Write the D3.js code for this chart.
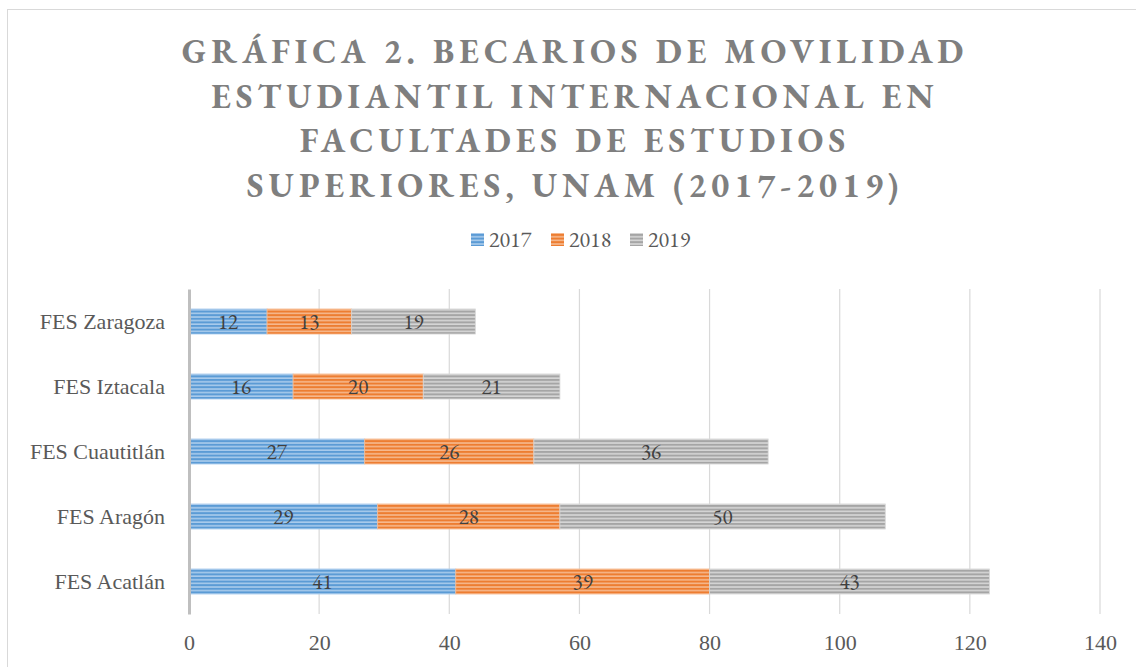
<!DOCTYPE html>
<html>
<head>
<meta charset="utf-8">
<script src="https://cdn.jsdelivr.net/npm/d3@7"></script>
<style>
  body { margin: 0; background: #fff; }
  svg text { font-family: Garamond, "EB Garamond", "Liberation Serif", "DejaVu Serif", serif; }
</style>
</head>
<body>
<div id="chart"></div>
<script>
// Data
const categories = ["FES Zaragoza", "FES Iztacala", "FES Cuautitlán", "FES Aragón", "FES Acatlán"];
const years = ["2017", "2018", "2019"];
const values2017 = [12, 16, 27, 29, 41];
const values2018 = [13, 20, 26, 28, 39];
const values2019 = [19, 21, 36, 50, 43];
const xTicks = [0, 20, 40, 60, 80, 100, 120, 140];
const titleLines = [
    "GRÁFICA 2. BECARIOS DE MOVILIDAD",
    "ESTUDIANTIL INTERNACIONAL EN",
    "FACULTADES DE ESTUDIOS",
    "SUPERIORES, UNAM (2017-2019)"
];

const W = 1136, H = 667;
const margin = { top: 289, right: 36, bottom: 53, left: 189 };
const width = W - margin.left - margin.right;
const height = H - margin.top - margin.bottom;

const svg = d3.select("#chart").append("svg")
    .attr("width", W)
    .attr("height", H);

// Stripe patterns
const colors = { "2017": ["#5b9bd5", "#a9cbec"], "2018": ["#ed7d31", "#f6b98e"], "2019": ["#a5a5a5", "#d6d6d6"] };
const defs = svg.append("defs");
years.forEach(y => {
    const p = defs.append("pattern")
        .attr("id", "stripe" + y)
        .attr("patternUnits", "userSpaceOnUse")
        .attr("width", 8).attr("height", 3.6);
    p.append("rect").attr("width", 8).attr("height", 3.6).attr("fill", colors[y][1]);
    p.append("rect").attr("width", 8).attr("height", 2).attr("fill", colors[y][0]);
});

// Chart border
svg.append("rect")
    .attr("x", 7.5).attr("y", 9.5)
    .attr("width", W).attr("height", H)
    .attr("fill", "none")
    .attr("stroke", "#d9d9d9");

// Title
svg.append("text")
    .attr("text-anchor", "middle")
    .attr("fill", "#7f7f7f")
    .style("font-size", "34px")
    .style("font-weight", "bold")
    .style("letter-spacing", "5px")
    .selectAll("tspan")
    .data(titleLines)
    .enter().append("tspan")
    .attr("x", 575)
    .attr("y", (d, i) => 63 + i * 44.7)
    .text(d => d);

// Legend
const legendX = [471, 551, 630];
const legend = svg.append("g");
years.forEach((y, i) => {
    legend.append("rect")
        .attr("x", legendX[i]).attr("y", 233)
        .attr("width", 13).attr("height", 13)
        .attr("fill", `url(#stripe${y})`);
    legend.append("text")
        .attr("x", legendX[i] + 18).attr("y", 247)
        .attr("fill", "#595959")
        .style("font-size", "22px")
        .text(y);
});

const g = svg.append("g").attr("transform", `translate(${margin.left},${margin.top})`);

const x = d3.scaleLinear().domain([0, 140]).range([0, width]);
const y = d3.scaleBand().domain(categories).range([0, height])
    .paddingInner(0.615).paddingOuter(0.3075);

// Gridlines
g.append("g")
    .selectAll("line")
    .data(xTicks.slice(1))
    .enter().append("line")
    .attr("x1", d => x(d)).attr("x2", d => x(d))
    .attr("y1", 0).attr("y2", height)
    .attr("stroke", "#d9d9d9")
    .attr("stroke-width", 1.2);

// Stacked bars
const rows = categories.map((c, i) => ({ cat: c, "2017": values2017[i], "2018": values2018[i], "2019": values2019[i] }));
const series = d3.stack().keys(years)(rows);

series.forEach(s => {
    const grp = g.append("g");
    grp.selectAll("rect")
        .data(s)
        .enter().append("rect")
        .attr("x", d => x(d[0]))
        .attr("y", d => y(d.data.cat))
        .attr("width", d => x(d[1]) - x(d[0]))
        .attr("height", y.bandwidth())
        .attr("fill", `url(#stripe${s.key})`)
        .attr("stroke", colors[s.key][1])
        .attr("stroke-width", 0.8);
    grp.selectAll("text")
        .data(s)
        .enter().append("text")
        .attr("x", d => (x(d[0]) + x(d[1])) / 2)
        .attr("y", d => y(d.data.cat) + y.bandwidth() / 2 + 7)
        .attr("text-anchor", "middle")
        .attr("fill", "#404040")
        .style("font-size", "21px")
        .text(d => d[1] - d[0]);
});

// Y axis
const yAxis = g.append("g").call(d3.axisLeft(y).tickSize(0).tickPadding(24));
yAxis.select(".domain").attr("stroke", "#bfbfbf").attr("stroke-width", 3);
yAxis.selectAll("text")
    .attr("fill", "#595959")
    .style("font-size", "22px")
    .style("font-family", 'Garamond, "Liberation Serif", serif');

// X axis
const xAxis = g.append("g")
    .attr("transform", `translate(0,${height})`)
    .call(d3.axisBottom(x).tickValues(xTicks).tickSize(0).tickPadding(20));
xAxis.select(".domain").remove();
xAxis.selectAll("text")
    .attr("fill", "#595959")
    .style("font-size", "22px")
    .style("font-family", 'Garamond, "Liberation Serif", serif');
</script>
</body>
</html>
